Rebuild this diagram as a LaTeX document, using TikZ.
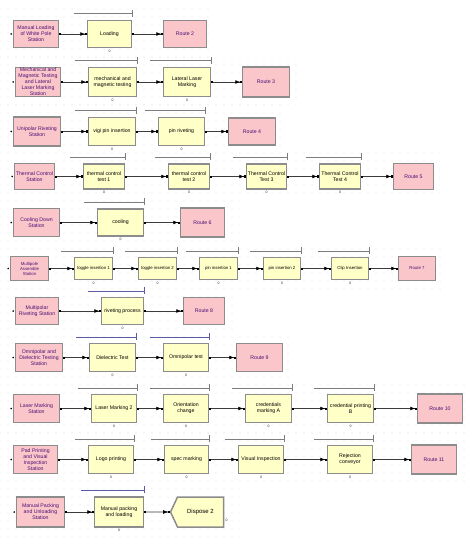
\documentclass[tikz,border=0pt]{standalone}
\usepackage{fontspec}
\setmainfont{Liberation Sans}
\usetikzlibrary{positioning,arrows.meta,shapes.symbols,patterns.meta}

\definecolor{stpink}{RGB}{250,198,202}
\definecolor{procyel}{RGB}{255,255,200}
\definecolor{boxframe}{RGB}{140,140,140}
\definecolor{stext}{RGB}{75,15,115}
\definecolor{qgray}{RGB}{125,125,125}
\definecolor{qblue}{RGB}{90,90,165}
\definecolor{wirecol}{RGB}{60,60,60}

% queue line above a process module
\newcommand{\qline}[2][qgray]{%
  \draw[qbar, draw=#1] ([shift={(-13pt,6pt)}]#2.north west) -- ([yshift=6pt]#2.north east);
  \draw[qbar, draw=#1] ([yshift=10pt]#2.north east) -- ([yshift=3pt]#2.north east);}

\begin{document}
\begin{tikzpicture}[
    x=1pt, y=-1pt,
    sz/.style 2 args={minimum width=#1pt, minimum height=#2pt},
    module/.style={rectangle, draw=boxframe, line width=1.5pt, inner sep=0.6pt,
        align=center, font=\fontsize{5.2}{6}\selectfont},
    station/.style={module, fill=stpink, text=stext},
    route/.style={module, fill=stpink, text=stext},
    proc/.style={module, fill=procyel, text=black, label={[cnt]below:0}},
    small/.style={font=\fontsize{4.3}{5}\selectfont},
    cnt/.style={font=\fontsize{3.5}{4}\selectfont, inner sep=0.6pt, text=black!80, label distance=0.6pt},
    wire/.style={draw=wirecol, line width=0.55pt,
        {Square[length=1.3pt,width=1.3pt,color=black]}-{Latex[length=5pt,width=3.8pt,color=black]Square[length=1.5pt,width=2pt,color=black]}},
    qbar/.style={line width=0.5pt},
    grid dots/.style={pattern={Dots[distance=8pt,radius=0.45pt]}, pattern color=gray!65}
]
\useasboundingbox (0,0) rectangle (474,545);

% background grid
\fill[grid dots] (0,5) rectangle (215,58);
\fill[grid dots] (0,58) rectangle (297,105);
\fill[grid dots] (0,105) rectangle (285,150);
\fill[grid dots] (0,150) rectangle (440,197);
\fill[grid dots] (0,197) rectangle (240,244);
\fill[grid dots] (0,244) rectangle (442,290);
\fill[grid dots] (0,290) rectangle (236,332);
\fill[grid dots] (0,332) rectangle (293,380);
\fill[grid dots] (0,380) rectangle (470,432);
\fill[grid dots] (0,432) rectangle (470,483);
\fill[grid dots] (0,483) rectangle (240,538);

% row 1
\node[station, sz={45}{27}] (st1) at (36,34) {Manual Loading\\of White Pole\\Station};
\node[proc, sz={44}{27}] (ld) at (109.5,34) {Loading};
\node[route, sz={43}{27}] (r2) at (185,34) {Route 2};

% row 2
\node[station, sz={45}{29}] (st2) at (38,82) {Mechanical and\\Magnetic Testing\\and Lateral\\Laser Marking\\Station};
\node[proc, sz={48}{29}] (mech) at (112.5,82) {mechanical and\\magnetic testing};
\node[proc, sz={47}{29}] (lat) at (187,82) {Lateral Laser\\Marking};
\node[route, sz={47}{30}] (r3) at (266,82) {Route 3};

% row 3
\node[station, sz={47}{29}] (st3) at (37,131.5) {Unipolar Riveting\\Station};
\node[proc, sz={47}{28}] (vigi) at (112,131.5) {vigi pin insertion};
\node[proc, sz={46}{28}] (pinr) at (181.5,131.5) {pin riveting};
\node[route, sz={47}{27}] (r4) at (252,131.5) {Route 4};

% row 4
\node[station, sz={40}{26}] (st4) at (34.5,176.5) {Thermal Control\\Station};
\node[proc, sz={41}{25}] (tc1) at (104,176.5) {thermal control\\test 1};
\node[proc, sz={41}{25}] (tc2) at (189,176.5) {thermal control\\test 2};
\node[proc, sz={40}{25}] (tc3) at (266.5,176.5) {Thermal Control\\Test 3};
\node[proc, sz={41}{25}] (tc4) at (340,176.5) {Thermal Control\\Test 4};
\node[route, sz={40}{26}] (r5) at (413.5,176.5) {Route 5};

% row 5
\node[station, sz={46}{28}] (st5) at (36.5,222.5) {Cooling Down\\Station};
\node[proc, sz={46}{27}] (cool) at (120.5,222.5) {cooling};
\node[route, sz={44}{29}] (r6) at (202.5,222.5) {Route 6};

% row 6
\node[station, small, sz={38}{24}] (st6) at (29.5,268.5) {Multipole\\Assemble\\Station};
\node[proc, small, sz={38}{22}] (tg1) at (93.5,268.5) {toggle insertion 1};
\node[proc, small, sz={38}{22}] (tg2) at (157.5,268.5) {toggle insertion 2};
\node[proc, small, sz={38}{22}] (pi1) at (218.5,268.5) {pin insertion 1};
\node[proc, small, sz={37}{22}] (pi2) at (282,268.5) {pin insertion 2};
\node[proc, small, sz={37}{22}] (clip) at (350,268.5) {Clip Insertion};
\node[route, small, sz={37}{24}] (r7) at (417,268.5) {Route 7};

% row 7
\node[station, sz={43}{27}] (st7) at (37,311) {Multipolar\\Riveting Station};
\node[proc, sz={42}{27}] (rivp) at (122.5,311) {riveting process};
\node[route, sz={41}{27}] (r8) at (204,311) {Route 8};

% row 8
\node[station, sz={47}{28}] (st8) at (39,357.5) {Omnipolar and\\Dielectric Testing\\Station};
\node[proc, sz={46}{28}] (diel) at (112.5,357.5) {Dielectric Test};
\node[proc, sz={45}{28}] (omni) at (186,357.5) {Omnipolar test};
\node[route, sz={46}{28}] (r9) at (259.5,357.5) {Route 9};

% row 9
\node[station, sz={46}{28}] (st9) at (36.5,408.5) {Laser Marking\\Station};
\node[proc, sz={45}{28}] (lm2) at (114,408.5) {Laser Marking 2};
\node[proc, sz={45}{28}] (ori) at (186,408.5) {Orientation\\change};
\node[proc, sz={46}{28}] (cra) at (268.5,408.5) {credentials\\marking A};
\node[proc, sz={46}{28}] (crb) at (350.5,408.5) {credential printing\\B};
\node[route, sz={45}{29}] (r10) at (440,408.5) {Route 10};

% row 10
\node[station, sz={44}{28}] (st10) at (35.5,459.5) {Pad Printing\\and Visual\\Inspection\\Station};
\node[proc, sz={45}{28}] (logo) at (111,459.5) {Logo printing};
\node[proc, sz={44}{28}] (spec) at (186.5,459.5) {spec marking};
\node[proc, sz={45}{28}] (vis) at (261,459.5) {Visual Inspection};
\node[proc, sz={45}{28}] (rej) at (350,459.5) {Rejection\\conveyor};
\node[route, sz={45}{29}] (r11) at (434,459.5) {Route 11};

% row 11
\node[station, sz={48}{30}] (st11) at (40.5,512) {Manual Packing\\and Unloading\\Station};
\node[proc, sz={49}{30}] (pack) at (119,512) {Manual packing\\and loading};
\node[module, shape=signal, signal to=west, signal pointer angle=130, fill=procyel,
    font=\fontsize{6}{7}\selectfont, sz={53}{30}, label={[cnt]-15:0}] (disp) at (200.5,512) {Dispose 2};

% entry points of the stations
\foreach \s in {st1,st2,st3,st4,st5,st6,st7,st8,st9,st10,st11}
  \fill ([xshift=-1.6pt]\s.west) circle (0.9pt);

% queue lines
\foreach \p in {ld,mech,lat,vigi,pinr,tc1,tc2,tc3,tc4,cool,tg1,tg2,pi1,pi2,clip,lm2,ori,cra,crb,logo,spec,vis,rej}
  \qline{\p};
\foreach \p in {rivp,diel,omni,pack}
  \qline[qblue]{\p};

% connectors
\draw[wire] (st1) -- (ld);
\draw[wire] (ld) -- (r2);
\draw[wire] (st2) -- (mech);
\draw[wire] (mech) -- (lat);
\draw[wire] (lat) -- (r3);
\draw[wire] (st3) -- (vigi);
\draw[wire] (vigi) -- (pinr);
\draw[wire] (pinr) -- (r4);
\draw[wire] (st4) -- (tc1);
\draw[wire] (tc1) -- (tc2);
\draw[wire] (tc2) -- (tc3);
\draw[wire] (tc3) -- (tc4);
\draw[wire] (tc4) -- (r5);
\draw[wire] (st5) -- (cool);
\draw[wire] (cool) -- (r6);
\draw[wire] (st6) -- (tg1);
\draw[wire] (tg1) -- (tg2);
\draw[wire] (tg2) -- (pi1);
\draw[wire] (pi1) -- (pi2);
\draw[wire] (pi2) -- (clip);
\draw[wire] (clip) -- (r7);
\draw[wire] (st7) -- (rivp);
\draw[wire] (rivp) -- (r8);
\draw[wire] (st8) -- (diel);
\draw[wire] (diel) -- (omni);
\draw[wire] (omni) -- (r9);
\draw[wire] (st9) -- (lm2);
\draw[wire] (lm2) -- (ori);
\draw[wire] (ori) -- (cra);
\draw[wire] (cra) -- (crb);
\draw[wire] (crb) -- (r10);
\draw[wire] (st10) -- (logo);
\draw[wire] (logo) -- (spec);
\draw[wire] (spec) -- (vis);
\draw[wire] (vis) -- (rej);
\draw[wire] (rej) -- (r11);
\draw[wire] (st11) -- (pack);
\draw[wire] (pack) -- (disp);

\end{tikzpicture}
\end{document}
